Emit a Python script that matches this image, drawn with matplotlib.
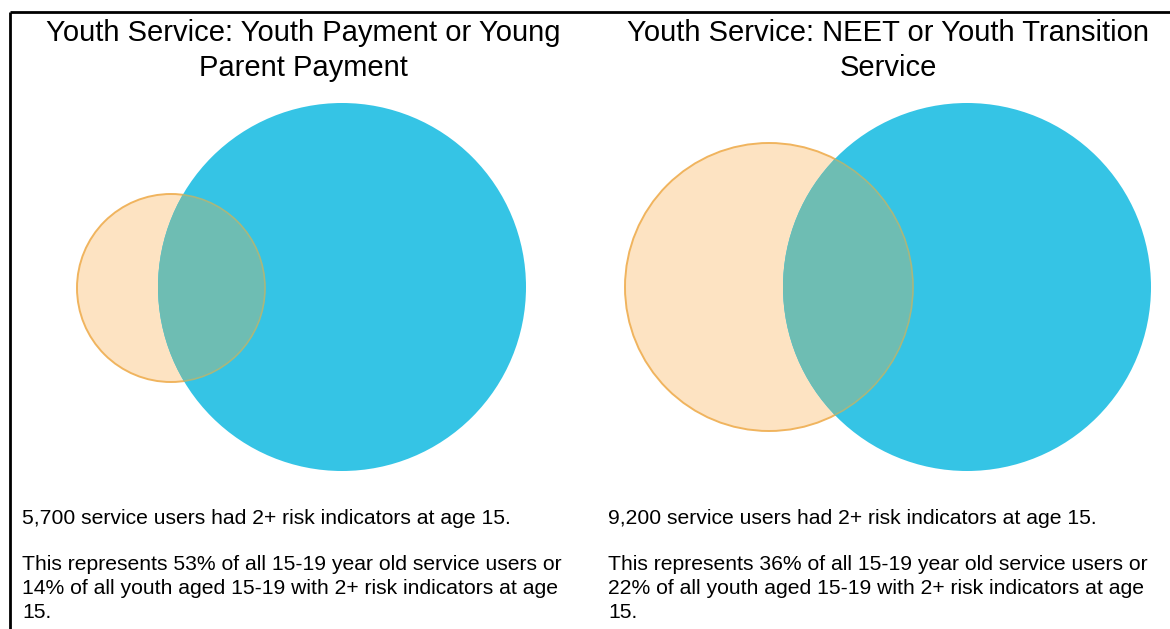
import matplotlib
matplotlib.use("Agg")
import matplotlib.pyplot as plt
from matplotlib.patches import Circle

plt.rcParams['font.family'] = ['Liberation Sans', 'DejaVu Sans']

titles = [["Youth Service: Youth Payment or Young", "Parent Payment"],
          ["Youth Service: NEET or Youth Transition", "Service"]]
counts = ["5,700", "9,200"]
pct_service = ["53%", "36%"]
pct_youth = ["14%", "22%"]

# Venn geometry (pixel units as in the picture): [cx, cy, r]
blue_circles = [[342, 287, 184], [967, 287, 184]]
orange_circles = [[171, 288, 94], [769, 287, 144]]

title_x = [303, 888]
title_base = [41, 76]
text_x = [22, 608]
body_base = [524, 570, 594, 618]

W, H = 1170, 629
fig = plt.figure(figsize=(W / 100, H / 100), dpi=100)
ax = fig.add_axes([0, 0, 1, 1])
ax.set_xlim(0, W)
ax.set_ylim(H, 0)
ax.set_aspect('equal')
ax.axis('off')

BLUE = '#35C4E5'
ORANGE_FILL = '#FDE3C2'
ORANGE_EDGE = '#F0B45E'
OVERLAP = '#6EBDB3'

for i in range(2):
    bx, by, br = blue_circles[i]
    ox, oy, orr = orange_circles[i]
    ax.add_patch(Circle((ox, oy), orr, facecolor=ORANGE_FILL, edgecolor=ORANGE_EDGE, lw=1.4, zorder=1))
    blue = Circle((bx, by), br, facecolor=BLUE, edgecolor='none', zorder=2)
    ax.add_patch(blue)
    ov = Circle((ox, oy), orr, facecolor=OVERLAP, edgecolor='#A8B77E', lw=1.2, zorder=3)
    ax.add_patch(ov)
    ov.set_clip_path(blue)

    for line, yb in zip(titles[i], title_base):
        ax.text(title_x[i], yb, line, ha='center', va='baseline', fontsize=21,
                color='black')
    lines = [f"{counts[i]} service users had 2+ risk indicators at age 15.",
             f"This represents {pct_service[i]} of all 15-19 year old service users or",
             f"{pct_youth[i]} of all youth aged 15-19 with 2+ risk indicators at age",
             "15."]
    for line, yb in zip(lines, body_base):
        ax.text(text_x[i], yb, line, ha='left', va='baseline', fontsize=15.2, color='black')

# frame lines (top and left)
ax.plot([10, W], [12, 12], color='black', lw=2, solid_capstyle='butt')
ax.plot([10, 10], [12, H], color='black', lw=2, solid_capstyle='butt')

fig.savefig('out.png', dpi=100)
